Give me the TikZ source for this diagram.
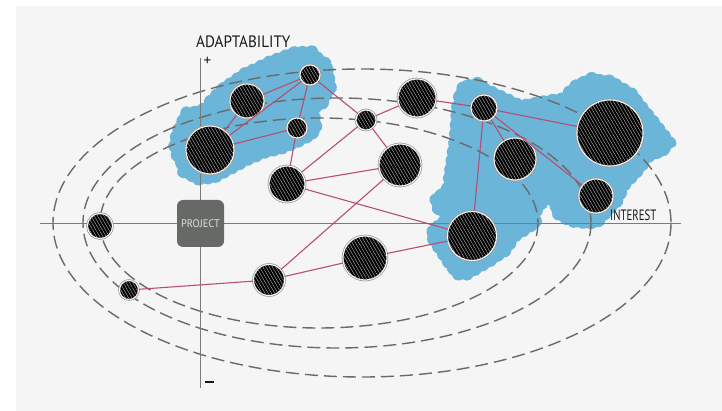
\documentclass[tikz,border=0pt]{standalone}
\usepackage{fontspec}
\usepackage{graphicx}
\newfontfamily\hand{PT Sans}
\usetikzlibrary{patterns.meta,decorations.pathmorphing}
\definecolor{panel}{HTML}{F5F5F5}
\definecolor{blobc}{HTML}{6BB5D8}
\definecolor{linkc}{HTML}{B84D72}
\definecolor{ellc}{HTML}{6A6A6A}
\definecolor{axisc}{HTML}{7A7A7A}
\definecolor{projc}{HTML}{666966}
\tikzset{
  ball/.style={circle, inner sep=0pt, minimum size=#1, fill=black,
    preaction={draw=gray!80, line width=2.6pt},
    draw=white, line width=1.1pt,
    postaction={pattern={Lines[angle=-60,distance=2.8pt,line width=0.45pt]}, pattern color=gray!65}},
  orbit/.style={draw=ellc, line width=1.4pt, dash pattern=on 13pt off 6pt},
  link/.style={draw=linkc, line width=1.1pt},
  axisline/.style={draw=axisc, line width=0.8pt},
  blobfill/.style={fill=blobc, draw=blobc, line width=3pt, line join=round,
    decorate, decoration={bumps, segment length=18pt, amplitude=3pt}},
  lbl/.style={inner sep=0pt, text=black!90, font=\hand\fontsize{16.5}{16.5}\selectfont},
}
\begin{document}
\begin{tikzpicture}[x=1pt,y=-1pt]
\useasboundingbox (0,0) rectangle (722,411);
\fill[white] (0,0) rectangle (722,411);
\fill[panel] (16,6) rectangle (722,411);

% blue regions
\path[blobfill] (172,150) -- (175,133) -- (184,114) -- (201,108) -- (221,88) -- (241,74) -- (267,61)
  -- (293,51) -- (309,50) -- (328,63) -- (332,85) -- (325,102) -- (315,110) -- (318,127) -- (313,136)
  -- (297,144) -- (282,150) -- (266,154) -- (249,161) -- (232,170) -- (215,179) -- (199,181) -- (186,175) -- cycle;
\path[blobfill] (456,100) -- (462,85) -- (475,82) -- (500,94) -- (521,104) -- (548,99) -- (561,97)
  -- (574,85) -- (588,78) -- (610,79) -- (632,92) -- (652,117) -- (670,140) -- (665,151) -- (650,158)
  -- (639,172) -- (626,186) -- (620,199) -- (610,211) -- (600,222) -- (590,225) -- (570,223) -- (558,216)
  -- (553,204) -- (547,199) -- (540,209) -- (537,224) -- (517,237) -- (507,251) -- (493,261) -- (483,267)
  -- (471,274) -- (459,276) -- (450,268) -- (431,239) -- (431,230) -- (440,222) -- (434,200) -- (446,187)
  -- (450,160) -- (453,140) -- cycle;

% orbits
\draw[orbit] (362,223) ellipse [x radius=309, y radius=154];
\draw[orbit] (337,223) ellipse [x radius=254, y radius=125];
\draw[orbit] (319,223) ellipse [x radius=219, y radius=105];

% axes
\coordinate (ytop) at (200,58);
\coordinate (ybot) at (200,388);
\coordinate (xleft) at (40,223);
\coordinate (xright) at (681,223);
\draw[axisline] (ytop) -- (ybot);
\draw[axisline] (xleft) -- (xright);

% project box
\node[fill=projc, rounded corners=6pt, minimum width=47pt, minimum height=47pt, inner sep=0pt,
  text=white!88!black, font=\hand\fontsize{11}{11}\selectfont] (proj) at (200.5,223.5) {\scalebox{0.95}[1]{PROJECT}};

% nodes
\node[ball=20pt] (n1) at (310,75) {};
\node[ball=34pt] (n2) at (247,101) {};
\node[ball=48pt] (n3) at (210,150) {};
\node[ball=20pt] (n4) at (297,128) {};
\node[ball=36pt] (n5) at (287,184) {};
\node[ball=20pt] (n6) at (366,120) {};
\node[ball=38pt] (n7) at (417,98) {};
\node[ball=42pt] (n8) at (400,165) {};
\node[ball=26pt] (n9) at (484,108) {};
\node[ball=42pt] (n10) at (515,159) {};
\node[ball=66pt] (n11) at (610,133) {};
\node[ball=34pt] (n12) at (596,196) {};
\node[ball=49pt] (n13) at (472,236) {};
\node[ball=44pt] (n14) at (365,258) {};
\node[ball=31pt] (n15) at (269,280) {};
\node[ball=19pt] (n16) at (129,290) {};
\node[ball=25pt] (n17) at (100,226) {};

% links
\foreach \a/\b in {n1/n2,n1/n3,n1/n4,n2/n3,n3/n4,n4/n5,n1/n6,n5/n6,n5/n8,n5/n13,n6/n7,n6/n8,
  n7/n9,n9/n11,n9/n10,n9/n12,n9/n13,n8/n15,n15/n14,n14/n13,n15/n16}
  \draw[link] (\a) -- (\b);

% labels
\node[lbl, anchor=south west] (adapt) at (196,48) {\scalebox{0.92}[1]{ADAPTABILITY}};
\node[lbl, font=\hand\fontsize{15}{15}\selectfont] (plus) at (207.5,61) {+};
\node[lbl] (minus) at (209.5,382) {\rule{9pt}{1.3pt}};
\node[lbl, anchor=south west, font=\hand\fontsize{15}{15}\selectfont] (interest) at (610,221) {\scalebox{0.72}[1]{INTEREST}};
\end{tikzpicture}
\end{document}
